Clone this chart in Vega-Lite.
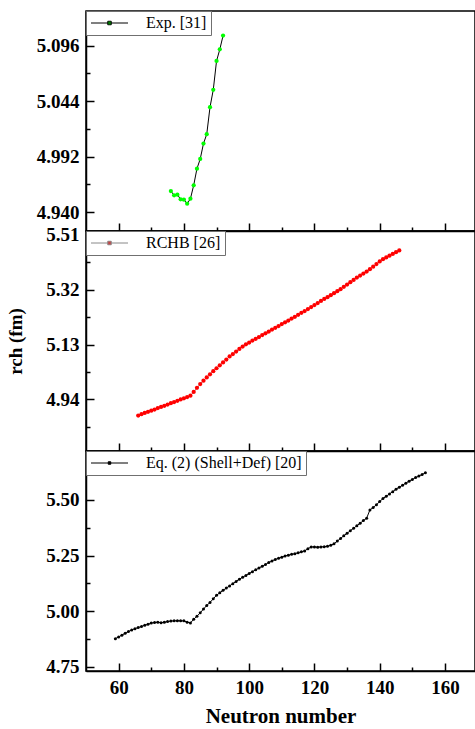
{
  "$schema": "https://vega.github.io/schema/vega-lite/v6.json",
  "padding": {"left": 6, "top": 9, "right": 0, "bottom": 0},
  "datasets": {
    "exp": [
      {"N": 76, "r": 4.9597}, {"N": 77, "r": 4.9557}, {"N": 78, "r": 4.9563}, {"N": 79, "r": 4.9519},
      {"N": 80, "r": 4.9516}, {"N": 81, "r": 4.9478}, {"N": 82, "r": 4.9525}, {"N": 83, "r": 4.9651},
      {"N": 84, "r": 4.9807}, {"N": 85, "r": 4.9898}, {"N": 86, "r": 5.0042}, {"N": 87, "r": 5.0130},
      {"N": 88, "r": 5.0384}, {"N": 89, "r": 5.0547}, {"N": 90, "r": 5.0817}, {"N": 91, "r": 5.0926},
      {"N": 92, "r": 5.1055}
    ],
    "rchb": [
      {"N": 66, "r": 4.884}, {"N": 67, "r": 4.889}, {"N": 68, "r": 4.893}, {"N": 69, "r": 4.897},
      {"N": 70, "r": 4.901}, {"N": 71, "r": 4.905}, {"N": 72, "r": 4.910}, {"N": 73, "r": 4.914},
      {"N": 74, "r": 4.918}, {"N": 75, "r": 4.922}, {"N": 76, "r": 4.927}, {"N": 77, "r": 4.931},
      {"N": 78, "r": 4.935}, {"N": 79, "r": 4.940}, {"N": 80, "r": 4.944}, {"N": 81, "r": 4.948},
      {"N": 82, "r": 4.953}, {"N": 83, "r": 4.966}, {"N": 84, "r": 4.980}, {"N": 85, "r": 4.993},
      {"N": 86, "r": 5.005}, {"N": 87, "r": 5.016}, {"N": 88, "r": 5.027}, {"N": 89, "r": 5.038},
      {"N": 90, "r": 5.048}, {"N": 91, "r": 5.058}, {"N": 92, "r": 5.068}, {"N": 93, "r": 5.078},
      {"N": 94, "r": 5.089}, {"N": 95, "r": 5.097}, {"N": 96, "r": 5.106}, {"N": 97, "r": 5.115},
      {"N": 98, "r": 5.123}, {"N": 99, "r": 5.131}, {"N": 100, "r": 5.137}, {"N": 101, "r": 5.144},
      {"N": 102, "r": 5.150}, {"N": 103, "r": 5.156}, {"N": 104, "r": 5.163}, {"N": 105, "r": 5.169},
      {"N": 106, "r": 5.175}, {"N": 107, "r": 5.182}, {"N": 108, "r": 5.188}, {"N": 109, "r": 5.194},
      {"N": 110, "r": 5.201}, {"N": 111, "r": 5.207}, {"N": 112, "r": 5.213}, {"N": 113, "r": 5.220},
      {"N": 114, "r": 5.226}, {"N": 115, "r": 5.233}, {"N": 116, "r": 5.240}, {"N": 117, "r": 5.246},
      {"N": 118, "r": 5.253}, {"N": 119, "r": 5.260}, {"N": 120, "r": 5.267}, {"N": 121, "r": 5.274},
      {"N": 122, "r": 5.281}, {"N": 123, "r": 5.288}, {"N": 124, "r": 5.294}, {"N": 125, "r": 5.301},
      {"N": 126, "r": 5.308}, {"N": 127, "r": 5.315}, {"N": 128, "r": 5.322}, {"N": 129, "r": 5.330},
      {"N": 130, "r": 5.338}, {"N": 131, "r": 5.346}, {"N": 132, "r": 5.354}, {"N": 133, "r": 5.362},
      {"N": 134, "r": 5.369}, {"N": 135, "r": 5.376}, {"N": 136, "r": 5.383}, {"N": 137, "r": 5.391},
      {"N": 138, "r": 5.400}, {"N": 139, "r": 5.409}, {"N": 140, "r": 5.418}, {"N": 141, "r": 5.426},
      {"N": 142, "r": 5.432}, {"N": 143, "r": 5.438}, {"N": 144, "r": 5.444}, {"N": 145, "r": 5.450},
      {"N": 146, "r": 5.456}
    ],
    "eq": [
      {"N": 59, "r": 4.877}, {"N": 60, "r": 4.885}, {"N": 61, "r": 4.893}, {"N": 62, "r": 4.901},
      {"N": 63, "r": 4.909}, {"N": 64, "r": 4.916}, {"N": 65, "r": 4.922}, {"N": 66, "r": 4.927},
      {"N": 67, "r": 4.932}, {"N": 68, "r": 4.937}, {"N": 69, "r": 4.942}, {"N": 70, "r": 4.947},
      {"N": 71, "r": 4.950}, {"N": 72, "r": 4.951}, {"N": 73, "r": 4.949}, {"N": 74, "r": 4.951},
      {"N": 75, "r": 4.954}, {"N": 76, "r": 4.956}, {"N": 77, "r": 4.957}, {"N": 78, "r": 4.958},
      {"N": 79, "r": 4.957}, {"N": 80, "r": 4.957}, {"N": 81, "r": 4.951}, {"N": 82, "r": 4.948},
      {"N": 83, "r": 4.964}, {"N": 84, "r": 4.978}, {"N": 85, "r": 4.993}, {"N": 86, "r": 5.010},
      {"N": 87, "r": 5.026}, {"N": 88, "r": 5.040}, {"N": 89, "r": 5.056}, {"N": 90, "r": 5.072},
      {"N": 91, "r": 5.083}, {"N": 92, "r": 5.094}, {"N": 93, "r": 5.104}, {"N": 94, "r": 5.114},
      {"N": 95, "r": 5.124}, {"N": 96, "r": 5.134}, {"N": 97, "r": 5.144}, {"N": 98, "r": 5.153},
      {"N": 99, "r": 5.161}, {"N": 100, "r": 5.170}, {"N": 101, "r": 5.178}, {"N": 102, "r": 5.186},
      {"N": 103, "r": 5.194}, {"N": 104, "r": 5.202}, {"N": 105, "r": 5.210}, {"N": 106, "r": 5.219},
      {"N": 107, "r": 5.226}, {"N": 108, "r": 5.233}, {"N": 109, "r": 5.238}, {"N": 110, "r": 5.243},
      {"N": 111, "r": 5.248}, {"N": 112, "r": 5.252}, {"N": 113, "r": 5.256}, {"N": 114, "r": 5.258},
      {"N": 115, "r": 5.263}, {"N": 116, "r": 5.267}, {"N": 117, "r": 5.271}, {"N": 118, "r": 5.281},
      {"N": 119, "r": 5.289}, {"N": 120, "r": 5.289}, {"N": 121, "r": 5.288}, {"N": 122, "r": 5.289},
      {"N": 123, "r": 5.290}, {"N": 124, "r": 5.292}, {"N": 125, "r": 5.296}, {"N": 126, "r": 5.303},
      {"N": 127, "r": 5.315}, {"N": 128, "r": 5.327}, {"N": 129, "r": 5.339}, {"N": 130, "r": 5.350},
      {"N": 131, "r": 5.362}, {"N": 132, "r": 5.373}, {"N": 133, "r": 5.384}, {"N": 134, "r": 5.395},
      {"N": 135, "r": 5.407}, {"N": 136, "r": 5.418}, {"N": 137, "r": 5.455}, {"N": 138, "r": 5.466},
      {"N": 139, "r": 5.478}, {"N": 140, "r": 5.493}, {"N": 141, "r": 5.506}, {"N": 142, "r": 5.516},
      {"N": 143, "r": 5.527}, {"N": 144, "r": 5.537}, {"N": 145, "r": 5.548}, {"N": 146, "r": 5.557},
      {"N": 147, "r": 5.566}, {"N": 148, "r": 5.575}, {"N": 149, "r": 5.584}, {"N": 150, "r": 5.592},
      {"N": 151, "r": 5.600}, {"N": 152, "r": 5.607}, {"N": 153, "r": 5.614}, {"N": 154, "r": 5.622}
    ]
  },
  "spacing": 0,
  "bounds": "flush",
  "vconcat": [
    {
      "width": 389,
      "height": 220,
      "data": {"name": "exp"},
      "encoding": {
        "x": {"field": "N", "type": "quantitative", "scale": {"domain": [50, 169.2], "nice": false, "zero": false},
          "axis": {"title": null, "labels": false, "values": [60, 70, 80, 90, 100, 110, 120, 130, 140, 150, 160],
            "tickSize": {"condition": {"test": "datum.value % 20 === 0", "value": -8}, "value": -4}}},
        "y": {"field": "r", "type": "quantitative", "scale": {"domain": [4.9222, 5.1286], "nice": false, "zero": false},
          "axis": {"title": null, "values": [4.94, 4.966, 4.992, 5.018, 5.044, 5.07, 5.096, 5.122],
            "labelExpr": "indexof(['4.940','4.992','5.044','5.096'], format(datum.value,'.3f')) >= 0 ? format(datum.value,'.3f') : ''",
            "labelPadding": 15,
            "tickSize": {"condition": {"test": "indexof(['4.940','4.992','5.044','5.096'], format(datum.value,'.3f')) >= 0", "value": -8}, "value": -4}}}
      },
      "layer": [
        {"mark": {"type": "line", "color": "black", "strokeWidth": 1}},
        {"mark": {"type": "point", "filled": true, "opacity": 1, "size": 18},
          "encoding": {"color": {"datum": "Exp. [31]", "scale": {"range": ["#00ff00"]},
            "legend": {"title": null, "orient": "top-left", "offset": 0, "padding": 4,
              "strokeColor": "#707070", "fillColor": "white", "labelFont": "Liberation Serif", "labelFontSize": 16,
              "labelColor": "black", "symbolType": "M-3.7,0H3.7M-0.35,-0.35H0.35V0.35H-0.35Z", "symbolSize": 100,
              "symbolOffset": 11.5, "labelOffset": 28.5, "symbolStrokeColor": "black", "symbolStrokeWidth": 1, "symbolFillColor": "#00ff00",
              "encode": {"symbols": {"update": {"stroke": {"value": "black"}, "strokeWidth": {"value": 1}, "fill": {"value": "#00ff00"}, "opacity": {"value": 1}, "strokeOpacity": {"value": 1}}}}}}}}
      ]
    },
    {
      "width": 389,
      "height": 220,
      "data": {"name": "rchb"},
      "encoding": {
        "x": {"field": "N", "type": "quantitative", "scale": {"domain": [50, 169.2], "nice": false, "zero": false},
          "axis": {"title": null, "labels": false, "values": [60, 70, 80, 90, 100, 110, 120, 130, 140, 150, 160],
            "tickSize": {"condition": {"test": "datum.value % 20 === 0", "value": -8}, "value": -4}}},
        "y": {"field": "r", "type": "quantitative", "scale": {"domain": [4.7613, 5.5235], "nice": false, "zero": false},
          "axis": {"title": "rch (fm)", "titleFontSize": 19, "titlePadding": 20,
            "values": [4.845, 4.94, 5.035, 5.13, 5.225, 5.32, 5.415, 5.51],
            "labelExpr": "indexof(['4.94','5.13','5.32','5.51'], format(datum.value,'.2f')) >= 0 ? format(datum.value,'.2f') : ''",
            "labelPadding": 15,
            "tickSize": {"condition": {"test": "indexof(['4.94','5.13','5.32','5.51'], format(datum.value,'.2f')) >= 0", "value": -8}, "value": -4}}}
      },
      "layer": [
        {"mark": {"type": "line", "color": "#888888", "strokeWidth": 1}},
        {"mark": {"type": "point", "filled": true, "opacity": 1, "size": 18},
          "encoding": {"color": {"datum": "RCHB [26]", "scale": {"range": ["#ff0000"]},
            "legend": {"title": null, "orient": "top-left", "offset": 0, "padding": 4,
              "strokeColor": "#707070", "fillColor": "white", "labelFont": "Liberation Serif", "labelFontSize": 16,
              "labelColor": "black", "symbolType": "M-3.7,0H3.7M-0.35,-0.35H0.35V0.35H-0.35Z", "symbolSize": 100,
              "symbolOffset": 11.5, "labelOffset": 28.5, "symbolStrokeColor": "#888888", "symbolStrokeWidth": 1, "symbolFillColor": "#ff0000",
              "encode": {"symbols": {"update": {"stroke": {"value": "#888888"}, "strokeWidth": {"value": 1}, "fill": {"value": "#ff0000"}, "opacity": {"value": 1}, "strokeOpacity": {"value": 1}}}}}}}}
      ]
    },
    {
      "width": 389,
      "height": 220,
      "data": {"name": "eq"},
      "encoding": {
        "x": {"field": "N", "type": "quantitative", "scale": {"domain": [50, 169.2], "nice": false, "zero": false},
          "axis": {"title": "Neutron number", "titleFontSize": 21, "titlePadding": 8,
            "values": [60, 70, 80, 90, 100, 110, 120, 130, 140, 150, 160],
            "labelExpr": "datum.value % 20 === 0 ? datum.label : ''", "labelPadding": 15,
            "tickSize": {"condition": {"test": "datum.value % 20 === 0", "value": -8}, "value": -4}}},
        "y": {"field": "r", "type": "quantitative", "scale": {"domain": [4.732, 5.7195], "nice": false, "zero": false},
          "axis": {"title": null, "values": [4.75, 4.875, 5.0, 5.125, 5.25, 5.375, 5.5, 5.625],
            "labelExpr": "indexof(['4.75','5.00','5.25','5.50'], format(datum.value,'.2f')) >= 0 ? format(datum.value,'.2f') : ''",
            "labelPadding": 15,
            "tickSize": {"condition": {"test": "indexof(['4.75','5.00','5.25','5.50'], format(datum.value,'.2f')) >= 0", "value": -8}, "value": -4}}}
      },
      "layer": [
        {"mark": {"type": "line", "color": "black", "strokeWidth": 1}},
        {"mark": {"type": "point", "filled": true, "opacity": 1, "size": 9},
          "encoding": {"color": {"datum": "Eq. (2) (Shell+Def) [20]", "scale": {"range": ["#000000"]},
            "legend": {"title": null, "orient": "top-left", "offset": 0, "padding": 4,
              "strokeColor": "#707070", "fillColor": "white", "labelFont": "Liberation Serif", "labelFontSize": 16,
              "labelColor": "black", "symbolType": "M-3.7,0H3.7M-0.25,-0.25H0.25V0.25H-0.25Z", "symbolSize": 100,
              "symbolOffset": 11.5, "labelOffset": 28.5, "symbolStrokeColor": "black", "symbolStrokeWidth": 1, "symbolFillColor": "#000000",
              "encode": {"symbols": {"update": {"stroke": {"value": "black"}, "strokeWidth": {"value": 1}, "fill": {"value": "#000000"}, "opacity": {"value": 1}, "strokeOpacity": {"value": 1}}}}}}}}
      ]
    }
  ],
  "resolve": {"scale": {"color": "independent", "y": "independent"}, "legend": {"color": "independent"}},
  "config": {
    "font": "Liberation Serif",
    "view": {"stroke": "black", "strokeWidth": 1.5},
    "axis": {"domainColor": "black", "domainWidth": 1.5, "tickColor": "black", "tickWidth": 1.5,
      "labelFont": "Liberation Serif", "labelFontSize": 19, "labelFontWeight": "bold", "labelColor": "black",
      "titleFont": "Liberation Serif", "titleFontWeight": "bold", "titleColor": "black", "grid": false}
  }
}
